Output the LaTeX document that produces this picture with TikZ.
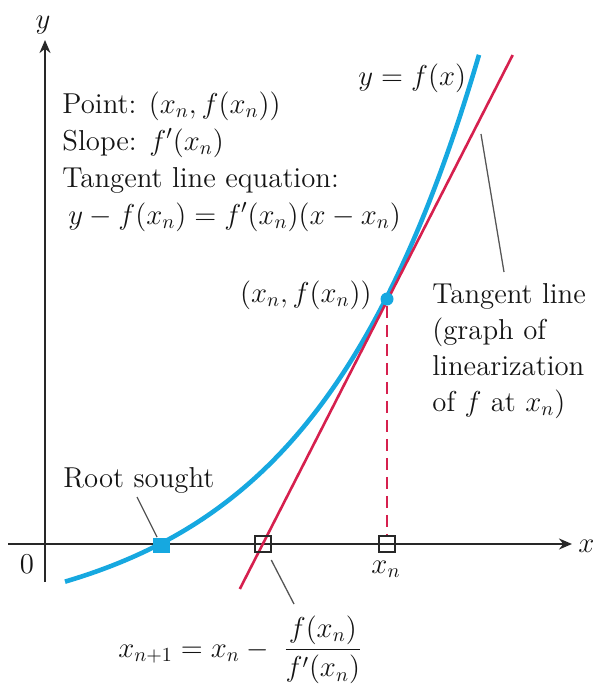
\documentclass[tikz,border=0pt]{standalone}
\usetikzlibrary{arrows.meta}
\definecolor{curveblue}{RGB}{22,168,224}
\definecolor{tanred}{RGB}{214,32,78}
\definecolor{axisgray}{RGB}{40,40,40}
\definecolor{leadgray}{RGB}{85,85,85}
\newcommand{\myxn}{x_n}
\begin{document}
\begin{tikzpicture}[x=0.5pt,y=-0.5pt,
  lbl/.style={inner sep=0pt, text=black!92, font=\fontsize{14.4}{17}\selectfont},
  axisline/.style={draw=axisgray, line width=1.1pt, -{Stealth[length=6.5pt,width=5.5pt]}},
  leader/.style={draw=leadgray, line width=0.65pt},
  tickbox/.style={draw=axisgray, line width=1.1pt, minimum size=7.8pt, inner sep=0pt},
  rootbox/.style={fill=curveblue, minimum width=8.5pt, minimum height=7.5pt, inner sep=0pt},
  fcurve/.style={draw=curveblue, line width=2.3pt},
  tline/.style={draw=tanred, line width=1.3pt},
  dropline/.style={draw=tanred, line width=0.9pt, dash pattern=on 6pt off 3.5pt}]
\useasboundingbox (0,0) rectangle (594,686);
% axes
\coordinate (xl) at (8,544);
\coordinate (xr) at (572,544);
\coordinate (yb) at (45,582);
\coordinate (yt) at (45,40);
\draw[axisline] (xl) -- (xr);
\draw[axisline] (yb) -- (yt);
% curve
\draw[fcurve] plot[domain=65:479, samples=120, smooth] (\x,{544-87.7*(exp(0.0059*(\x-160))-1)});
% tangent line
\coordinate (rb) at (239.8,589);
\coordinate (rt) at (512.7,55);
\draw[tline] (rb) -- (rt);
% marks
\node[tickbox] (xn1) at (263,544) {};
\node[tickbox] (xn) at (387,544) {};
\node[rootbox] (root) at (161,545) {};
\node[circle, fill=curveblue, minimum size=6.5pt, inner sep=0pt] (P) at (387,299) {};
\draw[dropline] (P) -- (xn.north);
% leaders
\coordinate (rl) at (137,497);
\draw[leader] (rl) -- (root);
\coordinate (fl) at (294,604);
\draw[leader, shorten <=4pt] (xn1) -- (fl);
\coordinate (tl1) at (481,134);
\coordinate (tl2) at (504,272);
\draw[leader] (tl1) -- (tl2);
% labels
\node[lbl, anchor=base] (ylab) at (43,28) {$y$};
\node[lbl, anchor=base] (zero) at (27,573) {0};
\node[lbl, anchor=base west] (xlab) at (578,552) {$x$};
\node[lbl, anchor=base] (xnlab) at (386,573) {$\myxn$};
\node[lbl, anchor=base west] (rootlab) at (63,487) {Root sought};
\node[lbl, anchor=base east] (plab) at (372,302) {$(\myxn, f(\myxn))$};
\node[lbl, anchor=base west] (flab) at (358,85) {$y = f(x)$};
\node[lbl, anchor=base west] (i1) at (62,113) {Point: $(\myxn, f(\myxn))$};
\node[lbl, anchor=base west] (i2) at (62,150) {Slope: $f'(\myxn)$};
\node[lbl, anchor=base west] (i3) at (62,187) {Tangent line equation:};
\node[lbl, anchor=base west] (i4) at (68,224) {$y - f(\myxn) = f'(\myxn)(x - \myxn)$};
\node[lbl, anchor=base west] (t1) at (432,303) {Tangent line};
\node[lbl, anchor=base west] (t2) at (432,339) {(graph of};
\node[lbl, anchor=base west] (t3) at (432,375) {linearization};
\node[lbl, anchor=base west] (t4) at (432,411) {of $f$ at $\myxn$)};
\node[lbl, anchor=base west] (newton) at (118,657) {$x_{n+1} = \myxn - \;\displaystyle\frac{f(\myxn)}{f'(\myxn)}$};
\end{tikzpicture}
\end{document}
